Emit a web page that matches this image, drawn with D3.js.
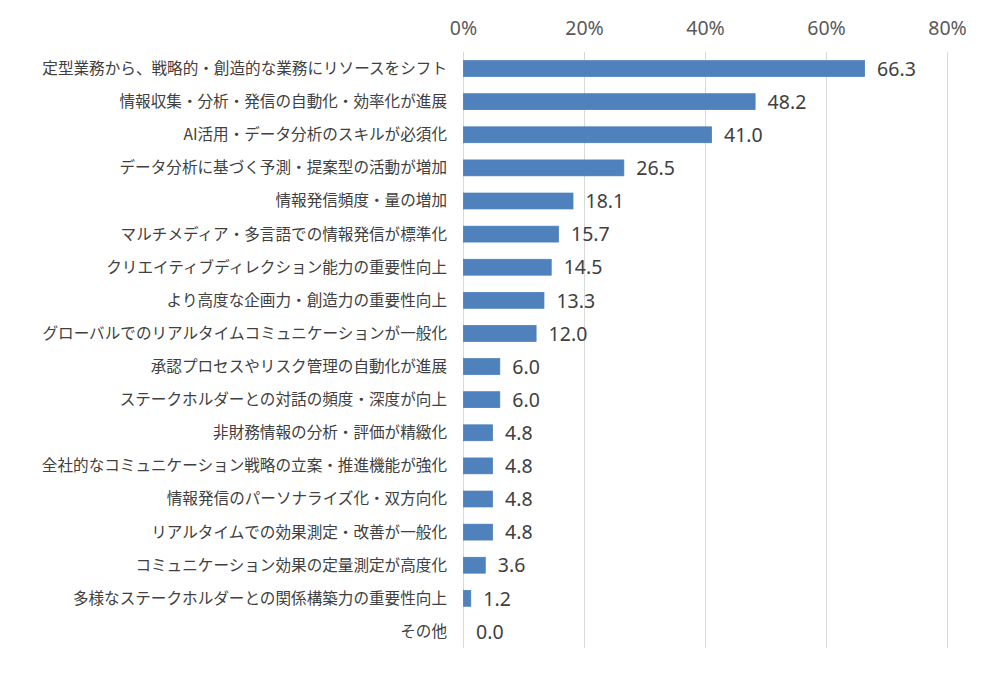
<!DOCTYPE html>
<html>
<head>
<meta charset="utf-8">
<script src="https://cdn.jsdelivr.net/npm/d3@7"></script>
<style>
  body { margin: 0; background: #fff; }
  text { font-family: "Noto Sans CJK JP", "Noto Sans", sans-serif; }
</style>
</head>
<body>
<div id="chart"></div>
<script>
// chart data
const categories = [
    '定型業務から、戦略的・創造的な業務にリソースをシフト',
    '情報収集・分析・発信の自動化・効率化が進展',
    'AI活用・データ分析のスキルが必須化',
    'データ分析に基づく予測・提案型の活動が増加',
    '情報発信頻度・量の増加',
    'マルチメディア・多言語での情報発信が標準化',
    'クリエイティブディレクション能力の重要性向上',
    'より高度な企画力・創造力の重要性向上',
    'グローバルでのリアルタイムコミュニケーションが一般化',
    '承認プロセスやリスク管理の自動化が進展',
    'ステークホルダーとの対話の頻度・深度が向上',
    '非財務情報の分析・評価が精緻化',
    '全社的なコミュニケーション戦略の立案・推進機能が強化',
    '情報発信のパーソナライズ化・双方向化',
    'リアルタイムでの効果測定・改善が一般化',
    'コミュニケーション効果の定量測定が高度化',
    '多様なステークホルダーとの関係構築力の重要性向上',
    'その他'
];
const values = [66.3, 48.2, 41.0, 26.5, 18.1, 15.7, 14.5, 13.3, 12.0, 6.0, 6.0, 4.8, 4.8, 4.8, 4.8, 3.6, 1.2, 0.0];
const ticks = [0, 20, 40, 60, 80];

const width = 1000, height = 680;
const margin = { top: 52, right: 53, bottom: 32, left: 463 };

const svg = d3.select('#chart').append('svg')
    .attr('width', width)
    .attr('height', height);

const x = d3.scaleLinear()
    .domain([0, 80])
    .range([margin.left, width - margin.right]);

const y = d3.scaleBand()
    .domain(categories)
    .range([margin.top, height - margin.bottom])
    .paddingInner(0.52)
    .paddingOuter(0.26);

// vertical gridlines
svg.append('g')
    .selectAll('line')
    .data(ticks)
    .enter().append('line')
    .attr('x1', d => x(d) + 0.5)
    .attr('x2', d => x(d) + 0.5)
    .attr('y1', margin.top)
    .attr('y2', height - margin.bottom)
    .attr('stroke', '#d9d9d9')
    .attr('stroke-width', 1);

// top axis labels
const xAxis = d3.axisTop(x)
    .tickValues(ticks)
    .tickSize(0)
    .tickPadding(0)
    .tickFormat(d => d + '%');

svg.append('g')
    .attr('transform', 'translate(0,35)')
    .call(xAxis)
    .call(g => g.select('.domain').remove())
    .selectAll('text')
    .attr('font-size', '19.5px')
    .attr('fill', '#595959')
    .style('font-family', '"Noto Sans", sans-serif');

// bars
svg.append('g')
    .selectAll('rect')
    .data(values)
    .enter().append('rect')
    .attr('x', x(0) + 0.5)
    .attr('y', (d, i) => y(categories[i]))
    .attr('width', d => Math.max(0, x(d) - x(0)))
    .attr('height', y.bandwidth())
    .attr('fill', '#4f81bd')
    .attr('stroke', d => d > 0 ? '#4a7ebb' : 'none')
    .attr('stroke-width', 0.75);

// category labels
svg.append('g')
    .selectAll('text')
    .data(categories)
    .enter().append('text')
    .attr('x', margin.left - 16)
    .attr('y', d => y(d) + y.bandwidth() / 2)
    .attr('dy', '0.35em')
    .attr('text-anchor', 'end')
    .attr('font-size', '15.6px')
    .attr('fill', '#404040')
    .text(d => d);

// value labels
svg.append('g')
    .selectAll('text')
    .data(values)
    .enter().append('text')
    .attr('x', d => x(d) + 13)
    .attr('y', (d, i) => y(categories[i]) + y.bandwidth() / 2)
    .attr('dy', '0.37em')
    .attr('font-size', '19.5px')
    .attr('fill', '#404040')
    .style('font-family', '"Noto Sans", sans-serif')
    .text(d => d.toFixed(1));
</script>
</body>
</html>
